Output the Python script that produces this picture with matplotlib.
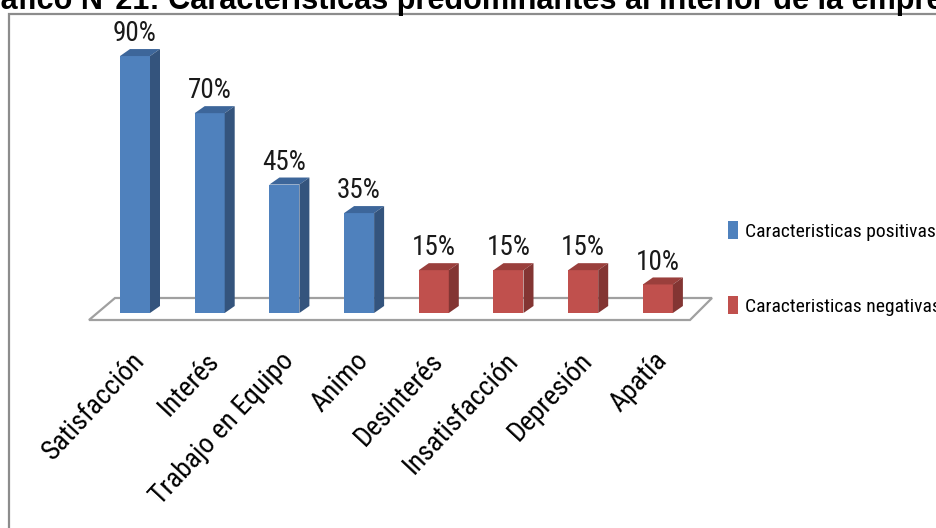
import matplotlib
matplotlib.use("Agg")
import matplotlib.pyplot as plt
from matplotlib.patches import Polygon, Rectangle, Patch
import logging
logging.getLogger("matplotlib.font_manager").setLevel(logging.ERROR)

# ---------------- data ----------------
categories = ["Satisfacción", "Interés", "Trabajo en Equipo", "Animo",
              "Desinterés", "Insatisfacción", "Depresión", "Apatía"]
values = [90, 70, 45, 35, 15, 15, 15, 10]
groups = ["pos", "pos", "pos", "pos", "neg", "neg", "neg", "neg"]
value_labels = ["90%", "70%", "45%", "35%", "15%", "15%", "15%", "10%"]
legend_labels = ["Caracteristicas positivas", "Caracteristicas negativas"]
title = "Gráfico N°21: Características predominantes al interior de la empresa"

# ---------------- style ----------------
W, H, DPI = 937, 528, 100
face = {"pos": "#4F81BD", "neg": "#C0504D"}
side = {"pos": "#34547D", "neg": "#833533"}
top = {"pos": "#3D669A", "neg": "#9A3F3C"}
NARROW = ["Liberation Sans Narrow", "Roboto Condensed", "Lato", "DejaVu Sans"]

fig = plt.figure(figsize=(W / DPI, H / DPI), dpi=DPI)
fig.patch.set_facecolor("white")

# axes spanning the whole figure; scale: 74.7 px per category, 2.855 px per %
px_cat, px_pct = 74.7, 2.855
x0_px, y0_px = 135.0, 313.0  # pixel of first category centre / zero level
ax = fig.add_axes([0, 0, 1, 1])
ax.set_xlim((0 - x0_px) / px_cat, (W - x0_px) / px_cat)
ax.set_ylim(-(H - y0_px) / px_pct, y0_px / px_pct)
ax.axis("off")

# frame of chart area
fig.patches.append(Rectangle((9 / W, -0.1), 1.2, 1 - 14 / H + 0.1,
                             transform=fig.transFigure, fill=False,
                             edgecolor="#8C8C8C", linewidth=1.6, zorder=0))

def px2x(p):
    return (p - x0_px) / px_cat

def py2y(p):
    return (y0_px - p) / px_pct

# floor (parallelogram)
floor = Polygon([(px2x(89), py2y(320)), (px2x(115), py2y(298)),
                 (px2x(712), py2y(298)), (px2x(690), py2y(320))],
                closed=True, facecolor="white", edgecolor="#A0A0A0",
                linewidth=1.6, zorder=1)
ax.add_patch(floor)

bw = 30 / px_cat
dx = 10 / px_cat
dy = 7 / px_pct
xs = list(range(len(values)))

bars = ax.bar(xs, values, width=bw, bottom=0,
              color=[face[g] for g in groups], zorder=3, linewidth=0)
for b, v, g in zip(bars, values, groups):
    xl = b.get_x()
    xr = xl + b.get_width()
    ax.add_patch(Polygon([(xl, v), (xl + dx, v + dy), (xr + dx, v + dy), (xr, v)],
                         closed=True, facecolor=top[g], edgecolor="none", zorder=3))
    ax.add_patch(Polygon([(xr, 0), (xr + dx, dy), (xr + dx, v + dy), (xr, v)],
                         closed=True, facecolor=side[g], edgecolor="none", zorder=3))

# value labels
for x, v, lab in zip(xs, values, value_labels):
    ax.text(x, v + dy + 0.6, lab, ha="center", va="bottom",
            fontsize=19.5, family=NARROW, color="#1A1A1A", zorder=4)

# category labels
for x, lab in zip(xs, categories):
    ax.text(x - 0.06, py2y(347), lab, rotation=47, rotation_mode="anchor",
            ha="right", va="top", fontsize=20, family=NARROW, color="black")

# legend
handles = [Patch(facecolor=face["pos"], edgecolor="none"),
           Patch(facecolor=face["neg"], edgecolor="none")]
fig.legend(handles, legend_labels, loc="center left",
           bbox_to_anchor=(728 / W, 1 - 268.5 / H), frameon=False,
           prop={"family": NARROW, "size": 14}, handlelength=0.5,
           handleheight=1.05, handletextpad=0.35, labelspacing=2.85,
           borderpad=0, borderaxespad=0)

# title (cut at the top, as in the reference)
fig.text(-35 / W, 1 - 8.5 / H, title, ha="left", va="baseline",
         fontsize=22.1, fontweight="bold", family=["Liberation Sans", "DejaVu Sans"],
         color="black")

fig.savefig("out.png", dpi=DPI)
